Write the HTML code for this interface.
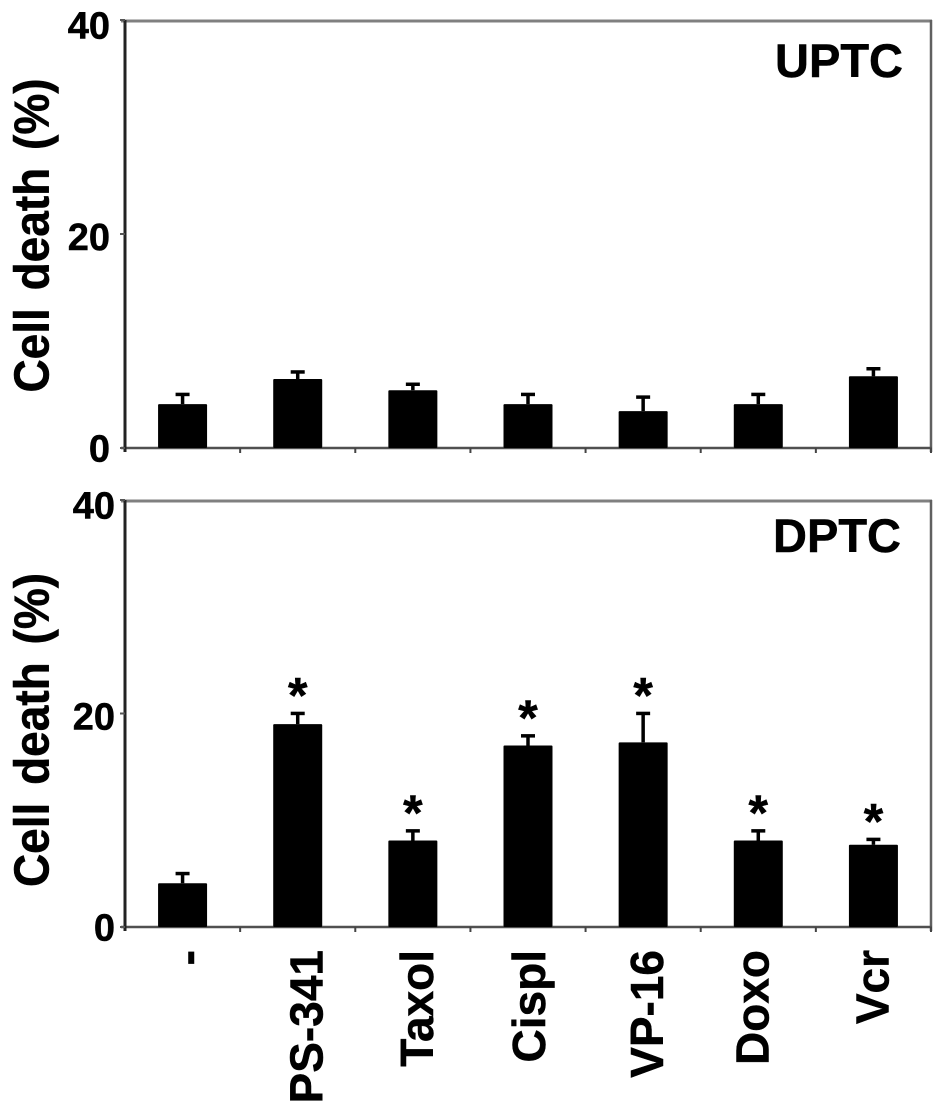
<!DOCTYPE html>
<html lang="en">
<head>
<meta charset="utf-8">
<title>Cell death in UPTC and DPTC</title>
<style>
html,body{margin:0;padding:0;background:#fff;width:945px;height:1111px;overflow:hidden}
svg{display:block}
text{font-family:"Liberation Sans",Arial,sans-serif;font-weight:bold;fill:#000;stroke:#000;stroke-width:0.5px}
</style>
</head>
<body>
<svg id="chart" xmlns="http://www.w3.org/2000/svg" width="945" height="1111" viewBox="0 0 945 1111"></svg>
<script>
const categories = ['-', 'PS-341', 'Taxol', 'Cispl', 'VP-16', 'Doxo', 'Vcr'];
const yTicks = [0, 20, 40];
const uptcValues = [4.1, 6.45, 5.4, 4.1, 3.45, 4.1, 6.7];
const uptcErrorTops = [5.1, 7.2, 6.05, 5.1, 4.85, 5.1, 7.5];
const dptcValues = [4.1, 19, 8.1, 17, 17.3, 8.1, 7.7];
const dptcErrorTops = [5.1, 20.1, 9.1, 18, 20.1, 9.1, 8.3];
const dptcSignificant = [false, true, true, true, true, true, true];

const svg = document.getElementById('chart');
const NS = 'http://www.w3.org/2000/svg';
const labelShift = [21, 25, 20, 17, 20, 10, 15];

function make(tag, attrs, text) {
  const el = document.createElementNS(NS, tag);
  for (const k in attrs) el.setAttribute(k, attrs[k]);
  if (text !== undefined) el.textContent = text;
  svg.appendChild(el);
  return el;
}

const plotLeft = 125;
const plotRight = 931;
function xCenter(i) {
  return plotLeft + (plotRight - plotLeft) * (i + 0.5) / categories.length;
}

function drawPanel(name, title, titleX, titleY, axisTitleY, axisTop, axisBottom, values, errorTops, tickLabelX) {
  const yScale = v => axisBottom - (axisBottom - axisTop) * v / 40;
  const labelScale = v => axisBottom - (axisBottom - axisTop - 5) * v / 40;

  const top = make('line', {x1: plotLeft - 4, x2: plotRight + 1, y1: axisTop + 1, y2: axisTop + 1, stroke: '#808080', 'stroke-width': 3});
  
  
  const right = make('line', {x1: plotRight, x2: plotRight, y1: axisTop, y2: axisBottom + 4, stroke: '#606060', 'stroke-width': 2.5});
  
  
  const xAxis = make('line', {x1: plotLeft - 4, x2: plotRight + 1, y1: axisBottom, y2: axisBottom, stroke: '#505050', 'stroke-width': 2.5});
  
  
  const yAxis = make('line', {x1: plotLeft, x2: plotLeft, y1: axisTop, y2: axisBottom + 4, stroke: '#222', 'stroke-width': 3});
  
  

  for (let i = 1; i <= categories.length; i++) {
    const tx = plotLeft + (plotRight - plotLeft) * i / categories.length;
    const tick = make('line', {x1: tx, x2: tx, y1: axisBottom, y2: axisBottom + 5, stroke: '#444', 'stroke-width': 2});
    
    
  }

  yTicks.forEach(t => {
    const yTick = make('line', {x1: plotLeft - 5, x2: plotLeft, y1: yScale(t), y2: yScale(t), stroke: '#555', 'stroke-width': 2});
    
    
    const label = make('text', {x: tickLabelX, y: labelScale(t) + 13.5, 'text-anchor': 'end', 'font-size': 38}, String(t));
    
    
  });

  const axisTitle = make('text', {
    transform: 'translate(48.5,' + axisTitleY + ') rotate(-90) scale(1,1.06)',
    'text-anchor': 'middle', 'font-size': 46, 'word-spacing': 5
  }, 'Cell death (%)');
  
  

  const panelTitle = make('text', {x: titleX, y: titleY, 'text-anchor': 'end', 'font-size': 47}, title);
  
  

  values.forEach((v, i) => {
    const cx = xCenter(i);
    const capY = yScale(errorTops[i]);
    const stem = make('line', {x1: cx, x2: cx, y1: capY, y2: yScale(v), stroke: '#000', 'stroke-width': 3.5});
    
    
    const cap = make('line', {x1: cx - 7, x2: cx + 7, y1: capY + 1, y2: capY + 1, stroke: '#000', 'stroke-width': 3.5});
    
    
    const bar = make('rect', {x: cx - 24.5, y: yScale(v), width: 49, height: axisBottom - yScale(v), fill: '#000', rx: 1});
    
    
  });

  return yScale;
}

drawPanel('uptc', 'UPTC', 903, 77, 235.5, 20, 448, uptcValues, uptcErrorTops, 110);
const dptcY = drawPanel('dptc', 'DPTC', 901, 552, 730, 500, 927, dptcValues, dptcErrorTops, 115);

dptcSignificant.forEach((sig, i) => {
  if (!sig) return;
  const star = make('text', {x: xCenter(i), y: dptcY(dptcErrorTops[i]) + 0, 'text-anchor': 'middle', 'font-size': 50}, '*');
  
  
});

categories.forEach((c, i) => {
  const bx = xCenter(i) + labelShift[i];
  const label = make('text', {
    transform: 'translate(' + bx + ',950) rotate(-90)',
    'text-anchor': 'end', 'font-size': 46
  }, c);
  
  
});
</script>
</body>
</html>
